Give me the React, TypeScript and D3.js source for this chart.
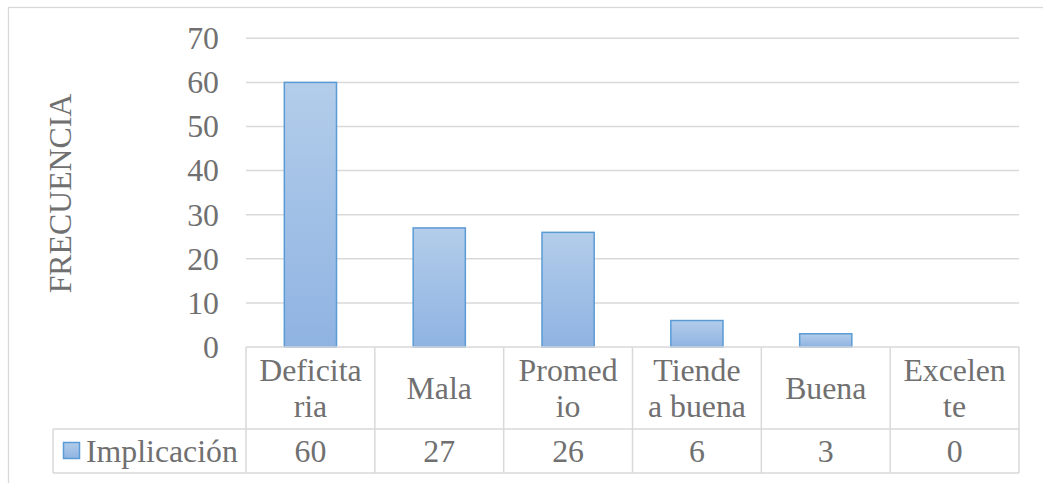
import React from "react";
import * as d3 from "d3";

const categories: string[][] = [
  ["Deficita", "ria"],
  ["Mala"],
  ["Promed", "io"],
  ["Tiende", "a buena"],
  ["Buena"],
  ["Excelen", "te"],
];
const seriesName = "Implicación";
const values = [60, 27, 26, 6, 3, 0];
const yTicks = [0, 10, 20, 30, 40, 50, 60, 70];
const yTitle = "FRECUENCIA";

const W = 1043;
const H = 483;
const FONT = "'Liberation Serif', 'Times New Roman', serif";
const TXT = "#707070";
const GRID = "#d9d9d9";

export default function App() {
  const left = 246;
  const right = 1019;
  const top = 38.3;
  const bottom = 347;
  const row1Bottom = 429;
  const row2Bottom = 473;
  const legendLeft = 53;
  const fs = 31.8;

  const x = d3
    .scaleBand<number>()
    .domain(d3.range(categories.length))
    .range([left, right])
    .padding(0);
  const y = d3.scaleLinear().domain([0, 70]).range([bottom, top]);
  const bw = x.bandwidth() * 0.405;

  const rowMid1 = (bottom + row1Bottom) / 2;
  const rowMid2 = (row1Bottom + row2Bottom) / 2;
  const lh = 36;

  return (
    <svg
      width={W}
      height={H}
      style={{ position: "absolute", left: 0, top: 0, background: "#fff" }}
      fontFamily={FONT}
    >
      <defs>
        <linearGradient id="barGrad" x1="0" y1="0" x2="0" y2="1">
          <stop offset="0" stopColor="#b3cdea" />
          <stop offset="1" stopColor="#8fb3e2" />
        </linearGradient>
        <linearGradient id="keyGrad" x1="0" y1="0" x2="0" y2="1">
          <stop offset="0" stopColor="#b3cdea" />
          <stop offset="1" stopColor="#8fb3e2" />
        </linearGradient>
      </defs>
      <rect x={0} y={0} width={W} height={H} fill="#fff" />
      {/* chart border */}
      <rect x={8.5} y={7.5} width={W + 50} height={H + 50} fill="none" stroke={GRID} strokeWidth={1.3} />

      {/* gridlines */}
      {yTicks
        .filter((t) => t > 0)
        .map((t) => (
          <line key={t} x1={left} x2={right} y1={y(t)} y2={y(t)} stroke={GRID} strokeWidth={1.5} />
        ))}

      {/* y tick labels */}
      {yTicks.map((t) => (
        <text key={t} x={219} y={y(t) + 10.8} textAnchor="end" fontSize={fs} fill={TXT}>
          {t}
        </text>
      ))}

      {/* y title */}
      <text
        transform={`translate(71, 193.5) rotate(-90)`}
        textAnchor="middle"
        fontSize={fs}
        fill={TXT}
      >
        {yTitle}
      </text>

      {/* bars */}
      {values.map((v, i) => {
        const cx = (x(i) as number) + x.bandwidth() / 2;
        return (
          <rect
            key={i}
            x={cx - bw / 2}
            y={y(v)}
            width={bw}
            height={y(0) - y(v)}
            fill="url(#barGrad)"
            stroke={v > 0 ? "#5b9bd5" : "none"}
            strokeWidth={1.5}
          />
        );
      })}

      {/* data table */}
      <g stroke={GRID} strokeWidth={1.5} fill="none">
        <line x1={left} x2={right} y1={bottom} y2={bottom} />
        <line x1={legendLeft} x2={right} y1={row1Bottom} y2={row1Bottom} />
        <line x1={legendLeft} x2={right} y1={row2Bottom} y2={row2Bottom} />
        <line x1={legendLeft} x2={legendLeft} y1={row1Bottom} y2={row2Bottom} />
        {d3.range(categories.length + 1).map((i) => {
          const xx = i < categories.length ? (x(i) as number) : right;
          return <line key={i} x1={xx} x2={xx} y1={bottom} y2={row2Bottom} />;
        })}
      </g>

      {/* category labels */}
      {categories.map((lines, i) => {
        const cx = (x(i) as number) + x.bandwidth() / 2;
        const n = lines.length;
        return (
          <text key={i} textAnchor="middle" fontSize={fs} fill={TXT}>
            {lines.map((ln, j) => (
              <tspan key={j} x={cx} y={rowMid1 + 10.8 + (j - (n - 1) / 2) * lh}>
                {ln}
              </tspan>
            ))}
          </text>
        );
      })}

      {/* values row */}
      {values.map((v, i) => {
        const cx = (x(i) as number) + x.bandwidth() / 2;
        return (
          <text key={i} x={cx} y={rowMid2 + 11} textAnchor="middle" fontSize={fs} fill={TXT}>
            {v}
          </text>
        );
      })}

      {/* legend key */}
      <rect x={63.5} y={442.5} width={16} height={16} fill="url(#keyGrad)" stroke="#5b9bd5" strokeWidth={1.5} />
      <text x={86} y={rowMid2 + 11} fontSize={fs} fill={TXT}>
        {seriesName}
      </text>
    </svg>
  );
}
